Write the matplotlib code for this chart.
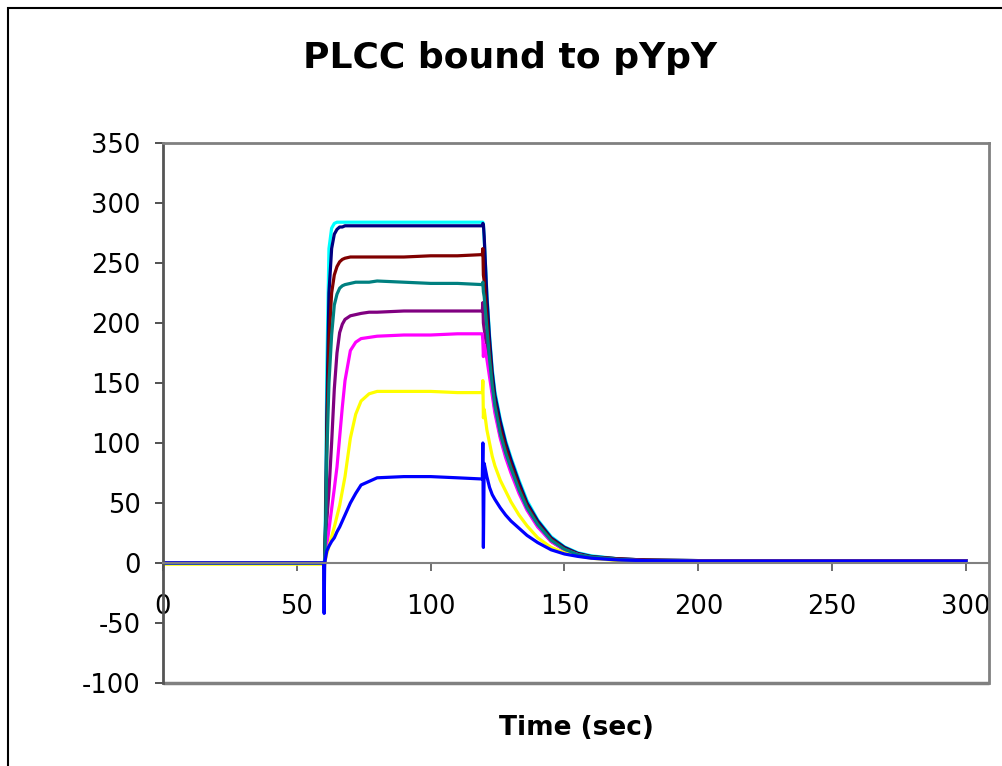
import matplotlib.pyplot as plt
from matplotlib.patches import Rectangle

plt.rcParams['font.family'] = 'DejaVu Sans'
plt.rcParams['axes.unicode_minus'] = False

# sample times (sec) shared by all traces
t = [0, 60.0, 60.2, 60.4, 60.8, 61.2, 62, 63, 64, 65, 66, 67, 68, 70, 72, 74, 77, 80,
     90, 100, 110, 119.3, 119.5, 119.7, 120, 121, 122, 123, 124, 126, 128, 130,
     133, 136, 140, 145, 150, 155, 160, 170, 180, 200, 250, 300]

cyan = [0, 0, -3, 5, 60, 160, 262, 279, 283, 284, 284, 284, 284, 284, 284, 284, 284, 284,
        284, 284, 284, 284, 284, 282, 270, 225, 190, 162, 143, 120, 102, 88,
        69, 52, 36, 22, 13.5, 8.5, 6, 3.5, 2.5, 2, 2, 2]
navy = [0, 0, -3, 3, 40, 120, 225, 262, 274, 278, 280, 280, 281, 281, 281, 281, 281, 281,
        281, 281, 281, 281, 283, 282, 272, 222, 187, 159, 140, 118, 100, 86,
        67, 50, 35, 21, 13, 8, 5.5, 3.5, 2.5, 2, 1.5, 1.5]
maroon = [0, 0, -4, 3, 35, 105, 185, 225, 240, 247, 251, 253, 254, 255, 255, 255, 255, 255,
          255, 256, 256, 257, 262, 240, 235, 205, 176, 151, 134, 112, 96, 82,
          64, 48, 33, 20, 12, 7.5, 5, 3.5, 2.5, 2, 2, 2]
teal = [0, 0, -5, 2, 30, 90, 150, 190, 215, 224, 229, 231, 232, 233, 234, 234, 234, 235,
        234, 233, 233, 232, 234, 226, 222, 196, 170, 148, 131, 108, 92, 79,
        61, 46, 32, 19, 11.5, 7, 5, 3, 2, 1.5, 1.5, 1.5]
purple = [0, 0, -6, 2, 15, 35, 60, 100, 145, 175, 192, 199, 203, 206, 207, 208, 209, 209,
          210, 210, 210, 210, 217, 200, 195, 180, 162, 144, 128, 106, 90, 77,
          60, 45, 31, 18, 11, 7, 4.5, 3, 2, 1.5, 1.5, 1.5]
magenta = [0, 0, -8, 1, 8, 15, 28, 45, 62, 80, 105, 130, 152, 177, 184, 187, 188, 189,
           190, 190, 191, 191, 185, 172, 182, 170, 155, 140, 125, 104, 88, 75,
           58, 44, 30, 18, 11, 7, 4.5, 2.5, 2, 1.5, 1.5, 1.5]
yellow = [-1, -1, -15, 0, 4, 8, 14, 22, 30, 39, 48, 60, 72, 104, 124, 135, 141, 143,
          143, 143, 142, 142, 152, 121, 128, 111, 100, 89, 81, 69, 60, 51,
          40, 31, 21, 13, 8.5, 6, 4, 2, 1.5, 1, 1, 1]
blue = [0, 0, -42, 0, 5, 10, 14, 18, 21, 26, 30, 35, 40, 50, 58, 65, 68, 71,
        72, 72, 71, 70, 100, 13, 83, 72, 63, 57, 53, 46, 40, 35,
        29, 23, 17, 11, 7.5, 5.5, 4, 2.5, 2, 1.5, 1.5, 1.5]

traces = [
    (cyan, '#00FFFF'),
    (navy, '#000080'),
    (maroon, '#800000'),
    (purple, '#800080'),
    (magenta, '#FF00FF'),
    (yellow, '#FFFF00'),
    (teal, '#008080'),
    (blue, '#0000FF'),
]

fig = plt.figure(figsize=(10.02, 7.66), dpi=100)
fig.patches.append(Rectangle((8 / 1002, -0.1), 1.2, 1 - 8 / 766 + 0.1,
                             transform=fig.transFigure, fill=False,
                             edgecolor='black', linewidth=1.5))

ax = fig.add_axes([163 / 1002, 83 / 766, 826 / 1002, 540 / 766])

for y, c in traces:
    ax.plot(t, y, color=c, linewidth=2.3, solid_joinstyle='round')

ax.set_xlim(0, 308.6)
ax.set_ylim(-100, 350)
ax.set_xticks(range(0, 301, 50))
ax.set_yticks(range(-100, 351, 50))

for side in ['top', 'right']:
    ax.spines[side].set_color('#808080')
    ax.spines[side].set_linewidth(2)
ax.spines['left'].set_color('#555555')
ax.spines['left'].set_linewidth(2)
ax.spines['bottom'].set_position(('data', 0))
ax.spines['bottom'].set_color('#808080')
ax.spines['bottom'].set_linewidth(1.5)
# lower edge of the plot area
ax.add_patch(Rectangle((0, 0), 1, 0, transform=ax.transAxes, fill=False,
                       edgecolor='#808080', linewidth=2.5, clip_on=False))

ax.tick_params(axis='x', direction='out', length=6, width=1.2, color='#555555',
               pad=16, labelsize=18.5)
ax.tick_params(axis='y', direction='out', length=6, width=1.2, color='#333333',
               pad=10, labelsize=18.5)

fig.text(0.509, 1 - 58 / 766, 'PLCC bound to pYpY', ha='center', va='center',
         fontsize=26, fontweight='bold')
fig.text(0.575, 1 - 728 / 766, 'Time (sec)', ha='center', va='center',
         fontsize=19, fontweight='bold')

fig.savefig('out.png', dpi=100)
